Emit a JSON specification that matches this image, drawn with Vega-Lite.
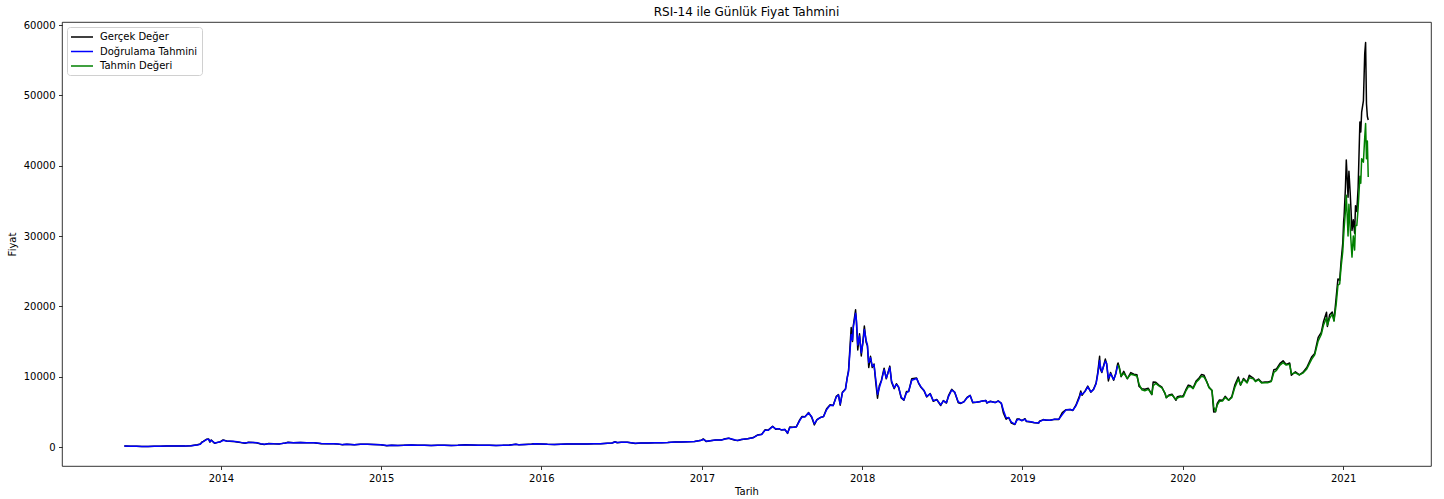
{
  "$schema": "https://vega.github.io/schema/vega-lite/v6.json",
  "width": 1369,
  "height": 444,
  "autosize": {"type": "none"},
  "padding": {"left": 62, "top": 22, "right": 13, "bottom": 33},
  "background": "white",
  "title": {
    "text": "RSI-14 ile Günlük Fiyat Tahmini",
    "font": "DejaVu Sans",
    "fontSize": 12,
    "fontWeight": "normal",
    "color": "#000",
    "anchor": "middle",
    "offset": 1
  },
  "config": {
    "view": {"stroke": "#000", "strokeWidth": 0.8},
    "axis": {
      "domain": false,
      "grid": false,
      "ticks": true,
      "tickColor": "#000",
      "tickWidth": 0.8,
      "tickSize": 3.5,
      "labelFont": "DejaVu Sans",
      "labelFontSize": 10,
      "labelColor": "#000",
      "labelPadding": 3.5,
      "titleFont": "DejaVu Sans",
      "titleFontSize": 10,
      "titleFontWeight": "normal",
      "titleColor": "#000"
    },
    "line": {"strokeWidth": 1.5, "strokeJoin": "round", "strokeCap": "butt"}
  },
  "data": {
    "values": [
      {"d": "2013-05-26", "g": 133, "v": 131},
      {"d": "2013-06-09", "g": 107, "v": 109},
      {"d": "2013-06-23", "g": 102, "v": 104},
      {"d": "2013-07-05", "g": 70, "v": 75},
      {"d": "2013-07-19", "g": 90, "v": 88},
      {"d": "2013-08-02", "g": 105, "v": 102},
      {"d": "2013-08-16", "g": 99, "v": 100},
      {"d": "2013-08-30", "g": 135, "v": 130},
      {"d": "2013-09-13", "g": 126, "v": 128},
      {"d": "2013-09-27", "g": 133, "v": 132},
      {"d": "2013-10-11", "g": 126, "v": 127},
      {"d": "2013-10-25", "g": 190, "v": 180},
      {"d": "2013-11-08", "g": 335, "v": 300},
      {"d": "2013-11-15", "g": 420, "v": 400},
      {"d": "2013-11-19", "g": 720, "v": 650},
      {"d": "2013-11-22", "g": 800, "v": 760},
      {"d": "2013-11-29", "g": 1100, "v": 1050},
      {"d": "2013-12-04", "g": 1150, "v": 1120},
      {"d": "2013-12-07", "g": 700, "v": 760},
      {"d": "2013-12-10", "g": 1000, "v": 960},
      {"d": "2013-12-18", "g": 520, "v": 560},
      {"d": "2013-12-24", "g": 660, "v": 640},
      {"d": "2013-12-31", "g": 754, "v": 740},
      {"d": "2014-01-06", "g": 1014, "v": 950},
      {"d": "2014-01-14", "g": 850, "v": 870},
      {"d": "2014-01-28", "g": 800, "v": 810},
      {"d": "2014-02-07", "g": 700, "v": 750},
      {"d": "2014-02-15", "g": 650, "v": 660},
      {"d": "2014-02-25", "g": 540, "v": 580},
      {"d": "2014-03-05", "g": 670, "v": 650},
      {"d": "2014-03-15", "g": 640, "v": 640},
      {"d": "2014-03-25", "g": 580, "v": 590},
      {"d": "2014-04-02", "g": 440, "v": 470},
      {"d": "2014-04-10", "g": 360, "v": 400},
      {"d": "2014-04-20", "g": 500, "v": 480},
      {"d": "2014-05-01", "g": 450, "v": 455},
      {"d": "2014-05-15", "g": 445, "v": 445},
      {"d": "2014-05-28", "g": 575, "v": 560},
      {"d": "2014-06-03", "g": 665, "v": 650},
      {"d": "2014-06-15", "g": 600, "v": 610},
      {"d": "2014-07-01", "g": 640, "v": 635},
      {"d": "2014-07-15", "g": 620, "v": 620},
      {"d": "2014-08-01", "g": 590, "v": 590},
      {"d": "2014-08-18", "g": 480, "v": 500},
      {"d": "2014-09-01", "g": 480, "v": 480},
      {"d": "2014-09-15", "g": 470, "v": 475},
      {"d": "2014-09-25", "g": 410, "v": 420},
      {"d": "2014-10-05", "g": 320, "v": 340},
      {"d": "2014-10-15", "g": 395, "v": 390},
      {"d": "2014-11-01", "g": 325, "v": 335},
      {"d": "2014-11-15", "g": 395, "v": 390},
      {"d": "2014-12-01", "g": 380, "v": 380},
      {"d": "2014-12-15", "g": 345, "v": 350},
      {"d": "2014-12-31", "g": 320, "v": 320},
      {"d": "2015-01-14", "g": 178, "v": 210},
      {"d": "2015-01-25", "g": 250, "v": 240},
      {"d": "2015-02-08", "g": 223, "v": 225},
      {"d": "2015-02-22", "g": 245, "v": 240},
      {"d": "2015-03-11", "g": 295, "v": 285},
      {"d": "2015-03-25", "g": 246, "v": 250},
      {"d": "2015-04-10", "g": 236, "v": 240},
      {"d": "2015-04-25", "g": 226, "v": 228},
      {"d": "2015-05-10", "g": 240, "v": 238},
      {"d": "2015-05-25", "g": 237, "v": 237},
      {"d": "2015-06-10", "g": 229, "v": 230},
      {"d": "2015-06-25", "g": 243, "v": 242},
      {"d": "2015-07-12", "g": 310, "v": 300},
      {"d": "2015-07-25", "g": 290, "v": 292},
      {"d": "2015-08-10", "g": 264, "v": 266},
      {"d": "2015-08-20", "g": 235, "v": 240},
      {"d": "2015-09-05", "g": 235, "v": 236},
      {"d": "2015-09-20", "g": 231, "v": 232},
      {"d": "2015-10-05", "g": 240, "v": 240},
      {"d": "2015-10-20", "g": 270, "v": 265},
      {"d": "2015-11-04", "g": 403, "v": 380},
      {"d": "2015-11-11", "g": 305, "v": 320},
      {"d": "2015-11-25", "g": 366, "v": 360},
      {"d": "2015-12-10", "g": 415, "v": 410},
      {"d": "2015-12-17", "g": 455, "v": 450},
      {"d": "2015-12-31", "g": 430, "v": 432},
      {"d": "2016-01-15", "g": 375, "v": 385},
      {"d": "2016-01-31", "g": 368, "v": 370},
      {"d": "2016-02-15", "g": 400, "v": 398},
      {"d": "2016-02-29", "g": 437, "v": 432},
      {"d": "2016-03-15", "g": 416, "v": 416},
      {"d": "2016-03-31", "g": 416, "v": 416},
      {"d": "2016-04-15", "g": 430, "v": 428},
      {"d": "2016-04-30", "g": 448, "v": 446},
      {"d": "2016-05-15", "g": 457, "v": 455},
      {"d": "2016-05-31", "g": 531, "v": 520},
      {"d": "2016-06-10", "g": 575, "v": 570},
      {"d": "2016-06-17", "g": 750, "v": 720},
      {"d": "2016-06-22", "g": 600, "v": 630},
      {"d": "2016-07-01", "g": 676, "v": 670},
      {"d": "2016-07-15", "g": 665, "v": 665},
      {"d": "2016-08-02", "g": 515, "v": 540},
      {"d": "2016-08-15", "g": 570, "v": 565},
      {"d": "2016-09-01", "g": 575, "v": 575},
      {"d": "2016-09-15", "g": 609, "v": 606},
      {"d": "2016-10-01", "g": 615, "v": 615},
      {"d": "2016-10-15", "g": 639, "v": 638},
      {"d": "2016-11-01", "g": 730, "v": 725},
      {"d": "2016-11-15", "g": 710, "v": 712},
      {"d": "2016-12-01", "g": 755, "v": 750},
      {"d": "2016-12-15", "g": 780, "v": 778},
      {"d": "2016-12-31", "g": 965, "v": 950},
      {"d": "2017-01-04", "g": 1150, "v": 1100},
      {"d": "2017-01-11", "g": 775, "v": 820},
      {"d": "2017-01-20", "g": 895, "v": 890},
      {"d": "2017-02-01", "g": 990, "v": 985},
      {"d": "2017-02-15", "g": 1010, "v": 1005},
      {"d": "2017-02-23", "g": 1170, "v": 1150},
      {"d": "2017-03-03", "g": 1260, "v": 1250},
      {"d": "2017-03-10", "g": 1100, "v": 1130},
      {"d": "2017-03-18", "g": 970, "v": 990},
      {"d": "2017-03-24", "g": 935, "v": 940},
      {"d": "2017-04-01", "g": 1080, "v": 1075},
      {"d": "2017-04-15", "g": 1180, "v": 1175},
      {"d": "2017-04-28", "g": 1340, "v": 1330},
      {"d": "2017-05-08", "g": 1720, "v": 1690},
      {"d": "2017-05-17", "g": 1800, "v": 1780},
      {"d": "2017-05-25", "g": 2450, "v": 2400},
      {"d": "2017-06-01", "g": 2400, "v": 2380},
      {"d": "2017-06-11", "g": 2960, "v": 2900},
      {"d": "2017-06-18", "g": 2520, "v": 2580},
      {"d": "2017-06-25", "g": 2590, "v": 2580},
      {"d": "2017-07-01", "g": 2430, "v": 2440},
      {"d": "2017-07-09", "g": 2500, "v": 2490},
      {"d": "2017-07-15", "g": 1930, "v": 2000},
      {"d": "2017-07-20", "g": 2860, "v": 2750},
      {"d": "2017-07-28", "g": 2810, "v": 2800},
      {"d": "2017-08-04", "g": 2870, "v": 2860},
      {"d": "2017-08-12", "g": 3900, "v": 3800},
      {"d": "2017-08-17", "g": 4330, "v": 4250},
      {"d": "2017-08-24", "g": 4320, "v": 4300},
      {"d": "2017-09-01", "g": 4900, "v": 4850},
      {"d": "2017-09-08", "g": 4230, "v": 4300},
      {"d": "2017-09-14", "g": 3150, "v": 3300},
      {"d": "2017-09-20", "g": 3900, "v": 3850},
      {"d": "2017-09-28", "g": 4200, "v": 4190},
      {"d": "2017-10-05", "g": 4330, "v": 4320},
      {"d": "2017-10-12", "g": 5430, "v": 5300},
      {"d": "2017-10-20", "g": 6000, "v": 5950},
      {"d": "2017-10-27", "g": 5900, "v": 5900},
      {"d": "2017-11-03", "g": 7200, "v": 7100},
      {"d": "2017-11-08", "g": 7450, "v": 7400},
      {"d": "2017-11-12", "g": 5950, "v": 6100},
      {"d": "2017-11-17", "g": 7800, "v": 7700},
      {"d": "2017-11-24", "g": 8250, "v": 8200},
      {"d": "2017-11-28", "g": 9900, "v": 9800},
      {"d": "2017-12-01", "g": 10900, "v": 10700},
      {"d": "2017-12-07", "g": 17000, "v": 16000},
      {"d": "2017-12-10", "g": 15000, "v": 15200},
      {"d": "2017-12-12", "g": 17300, "v": 17100},
      {"d": "2017-12-17", "g": 19500, "v": 19000},
      {"d": "2017-12-19", "g": 17700, "v": 18000},
      {"d": "2017-12-22", "g": 13800, "v": 14500},
      {"d": "2017-12-26", "g": 16100, "v": 15800},
      {"d": "2017-12-30", "g": 12950, "v": 13400},
      {"d": "2018-01-03", "g": 15200, "v": 14900},
      {"d": "2018-01-06", "g": 17200, "v": 16700},
      {"d": "2018-01-10", "g": 14900, "v": 15200},
      {"d": "2018-01-13", "g": 14400, "v": 14500},
      {"d": "2018-01-16", "g": 11300, "v": 12000},
      {"d": "2018-01-20", "g": 12900, "v": 12700},
      {"d": "2018-01-24", "g": 11300, "v": 11500},
      {"d": "2018-01-28", "g": 11800, "v": 11700},
      {"d": "2018-02-01", "g": 9200, "v": 9600},
      {"d": "2018-02-05", "g": 6950, "v": 7500},
      {"d": "2018-02-09", "g": 8700, "v": 8400},
      {"d": "2018-02-14", "g": 9500, "v": 9400},
      {"d": "2018-02-20", "g": 11200, "v": 11000},
      {"d": "2018-02-25", "g": 9700, "v": 9800},
      {"d": "2018-03-05", "g": 11500, "v": 11300},
      {"d": "2018-03-09", "g": 9200, "v": 9400},
      {"d": "2018-03-15", "g": 8300, "v": 8400},
      {"d": "2018-03-20", "g": 9000, "v": 8900},
      {"d": "2018-03-25", "g": 8500, "v": 8550},
      {"d": "2018-03-31", "g": 6970, "v": 7100},
      {"d": "2018-04-06", "g": 6640, "v": 6700},
      {"d": "2018-04-12", "g": 7900, "v": 7700},
      {"d": "2018-04-17", "g": 7900, "v": 7950},
      {"d": "2018-04-24", "g": 9700, "v": 9500},
      {"d": "2018-05-05", "g": 9800, "v": 9750},
      {"d": "2018-05-10", "g": 9000, "v": 9100},
      {"d": "2018-05-15", "g": 8500, "v": 8550},
      {"d": "2018-05-22", "g": 8000, "v": 8050},
      {"d": "2018-05-28", "g": 7100, "v": 7200},
      {"d": "2018-06-05", "g": 7600, "v": 7550},
      {"d": "2018-06-12", "g": 6500, "v": 6600},
      {"d": "2018-06-20", "g": 6750, "v": 6700},
      {"d": "2018-06-29", "g": 5900, "v": 6000},
      {"d": "2018-07-05", "g": 6600, "v": 6550},
      {"d": "2018-07-12", "g": 6250, "v": 6300},
      {"d": "2018-07-17", "g": 7350, "v": 7200},
      {"d": "2018-07-24", "g": 8200, "v": 8100},
      {"d": "2018-07-31", "g": 7750, "v": 7800},
      {"d": "2018-08-08", "g": 6300, "v": 6400},
      {"d": "2018-08-14", "g": 6200, "v": 6250},
      {"d": "2018-08-21", "g": 6450, "v": 6420},
      {"d": "2018-08-28", "g": 7050, "v": 7000},
      {"d": "2018-09-04", "g": 7350, "v": 7320},
      {"d": "2018-09-10", "g": 6300, "v": 6350},
      {"d": "2018-09-18", "g": 6350, "v": 6350},
      {"d": "2018-09-25", "g": 6450, "v": 6450},
      {"d": "2018-10-02", "g": 6550, "v": 6550},
      {"d": "2018-10-10", "g": 6600, "v": 6600},
      {"d": "2018-10-12", "g": 6250, "v": 6300},
      {"d": "2018-10-20", "g": 6500, "v": 6480},
      {"d": "2018-10-31", "g": 6320, "v": 6330},
      {"d": "2018-11-07", "g": 6550, "v": 6530},
      {"d": "2018-11-14", "g": 6200, "v": 6250},
      {"d": "2018-11-19", "g": 4800, "v": 5200},
      {"d": "2018-11-25", "g": 3950, "v": 4150},
      {"d": "2018-12-01", "g": 4200, "v": 4150},
      {"d": "2018-12-07", "g": 3400, "v": 3550},
      {"d": "2018-12-15", "g": 3200, "v": 3250},
      {"d": "2018-12-20", "g": 4000, "v": 3850},
      {"d": "2018-12-24", "g": 4000, "v": 3950},
      {"d": "2018-12-31", "g": 3740, "v": 3750},
      {"d": "2019-01-07", "g": 4030, "v": 3950},
      {"d": "2019-01-10", "g": 3630, "v": 3700},
      {"d": "2019-01-20", "g": 3540, "v": 3580},
      {"d": "2019-01-28", "g": 3460, "v": 3480},
      {"d": "2019-02-07", "g": 3400, "v": 3410},
      {"d": "2019-02-09", "g": 3660, "v": 3600},
      {"d": "2019-02-18", "g": 3900, "v": 3860},
      {"d": "2019-02-24", "g": 3800, "v": 3850},
      {"d": "2019-03-05", "g": 3800, "v": 3790},
      {"d": "2019-03-15", "g": 3950, "v": 3930},
      {"d": "2019-03-25", "g": 3920, "v": 3930},
      {"d": "2019-04-02", "g": 4880, "v": 4600},
      {"d": "2019-04-10", "g": 5300, "v": 5250},
      {"d": "2019-04-20", "g": 5330, "v": 5320},
      {"d": "2019-04-26", "g": 5200, "v": 5230},
      {"d": "2019-05-03", "g": 5950, "v": 5850},
      {"d": "2019-05-11", "g": 7250, "v": 7000},
      {"d": "2019-05-14", "g": 7950, "v": 7700},
      {"d": "2019-05-17", "g": 7350, "v": 7500},
      {"d": "2019-05-24", "g": 7990, "v": 7900},
      {"d": "2019-05-30", "g": 8660, "v": 8550},
      {"d": "2019-06-06", "g": 7800, "v": 7850},
      {"d": "2019-06-12", "g": 8200, "v": 8150},
      {"d": "2019-06-18", "g": 9100, "v": 9000},
      {"d": "2019-06-22", "g": 10700, "v": 10400},
      {"d": "2019-06-26", "g": 12900, "v": 12300},
      {"d": "2019-06-27", "g": 11200, "v": 11700},
      {"d": "2019-07-01", "g": 10600, "v": 10700},
      {"d": "2019-07-09", "g": 12500, "v": 12200},
      {"d": "2019-07-12", "g": 11800, "v": 11900},
      {"d": "2019-07-16", "g": 9400, "v": 9800},
      {"d": "2019-07-21", "g": 10600, "v": 10400},
      {"d": "2019-07-28", "g": 9500, "v": 9600},
      {"d": "2019-08-02", "g": 10530, "v": 10400},
      {"d": "2019-08-06", "g": 11800, "v": 11600},
      {"d": "2019-08-07", "g": 11950, "t": 11700},
      {"d": "2019-08-10", "g": 11300, "t": 11200},
      {"d": "2019-08-14", "g": 10000, "t": 10100},
      {"d": "2019-08-20", "g": 10760, "t": 10500},
      {"d": "2019-08-28", "g": 9700, "t": 9750},
      {"d": "2019-09-05", "g": 10580, "t": 10350},
      {"d": "2019-09-12", "g": 10350, "t": 10250},
      {"d": "2019-09-19", "g": 10280, "t": 10100},
      {"d": "2019-09-24", "g": 8600, "t": 8900},
      {"d": "2019-09-30", "g": 8300, "t": 8150},
      {"d": "2019-10-07", "g": 8200, "t": 8000},
      {"d": "2019-10-15", "g": 8350, "t": 8200},
      {"d": "2019-10-23", "g": 7450, "t": 7500},
      {"d": "2019-10-26", "g": 9250, "t": 8700},
      {"d": "2019-11-01", "g": 9200, "t": 9050},
      {"d": "2019-11-08", "g": 8800, "t": 8700},
      {"d": "2019-11-15", "g": 8500, "t": 8400},
      {"d": "2019-11-22", "g": 7600, "t": 7650},
      {"d": "2019-11-25", "g": 7000, "t": 7050},
      {"d": "2019-12-01", "g": 7400, "t": 7300},
      {"d": "2019-12-08", "g": 7500, "t": 7400},
      {"d": "2019-12-17", "g": 6640, "t": 6750},
      {"d": "2019-12-20", "g": 7150, "t": 6950},
      {"d": "2019-12-27", "g": 7250, "t": 7150},
      {"d": "2019-12-31", "g": 7200, "t": 7100},
      {"d": "2020-01-03", "g": 7350, "t": 7150},
      {"d": "2020-01-08", "g": 8080, "t": 7900},
      {"d": "2020-01-14", "g": 8800, "t": 8550},
      {"d": "2020-01-19", "g": 8700, "t": 8600},
      {"d": "2020-01-25", "g": 8400, "t": 8300},
      {"d": "2020-02-01", "g": 9400, "t": 9200},
      {"d": "2020-02-08", "g": 9850, "t": 9650},
      {"d": "2020-02-13", "g": 10300, "t": 10050},
      {"d": "2020-02-19", "g": 10200, "t": 9950},
      {"d": "2020-02-25", "g": 9300, "t": 9300},
      {"d": "2020-03-01", "g": 8550, "t": 8450},
      {"d": "2020-03-08", "g": 8040, "t": 8050},
      {"d": "2020-03-12", "g": 4970, "t": 5700},
      {"d": "2020-03-16", "g": 5000, "t": 5050},
      {"d": "2020-03-20", "g": 6200, "t": 5950},
      {"d": "2020-03-25", "g": 6700, "t": 6500},
      {"d": "2020-04-01", "g": 6640, "t": 6550},
      {"d": "2020-04-07", "g": 7200, "t": 7050},
      {"d": "2020-04-15", "g": 6640, "t": 6650},
      {"d": "2020-04-22", "g": 7130, "t": 7000},
      {"d": "2020-04-29", "g": 8800, "t": 8450},
      {"d": "2020-05-07", "g": 9950, "t": 9650},
      {"d": "2020-05-12", "g": 8800, "t": 8850},
      {"d": "2020-05-19", "g": 9750, "t": 9600},
      {"d": "2020-05-27", "g": 9200, "t": 9100},
      {"d": "2020-06-01", "g": 10200, "t": 9850},
      {"d": "2020-06-10", "g": 9800, "t": 9700},
      {"d": "2020-06-15", "g": 9400, "t": 9300},
      {"d": "2020-06-22", "g": 9650, "t": 9550},
      {"d": "2020-06-29", "g": 9190, "t": 9100},
      {"d": "2020-07-07", "g": 9250, "t": 9150},
      {"d": "2020-07-14", "g": 9250, "t": 9150},
      {"d": "2020-07-21", "g": 9390, "t": 9300},
      {"d": "2020-07-27", "g": 11000, "t": 10600},
      {"d": "2020-08-02", "g": 11100, "t": 10900},
      {"d": "2020-08-10", "g": 11900, "t": 11650},
      {"d": "2020-08-17", "g": 12250, "t": 12000},
      {"d": "2020-08-24", "g": 11750, "t": 11650},
      {"d": "2020-09-01", "g": 11950, "t": 11750},
      {"d": "2020-09-05", "g": 10200, "t": 10400},
      {"d": "2020-09-14", "g": 10700, "t": 10550},
      {"d": "2020-09-23", "g": 10250, "t": 10250},
      {"d": "2020-10-01", "g": 10600, "t": 10500},
      {"d": "2020-10-10", "g": 11300, "t": 11100},
      {"d": "2020-10-21", "g": 12800, "t": 12450},
      {"d": "2020-10-28", "g": 13300, "t": 13100},
      {"d": "2020-11-05", "g": 15600, "t": 15100},
      {"d": "2020-11-12", "g": 16300, "t": 16000},
      {"d": "2020-11-17", "g": 17800, "t": 17300},
      {"d": "2020-11-24", "g": 19150, "t": 18400},
      {"d": "2020-11-26", "g": 17150, "t": 17300},
      {"d": "2020-12-01", "g": 18800, "t": 18300},
      {"d": "2020-12-07", "g": 19200, "t": 18900},
      {"d": "2020-12-11", "g": 18000, "t": 17900},
      {"d": "2020-12-16", "g": 21300, "t": 20300},
      {"d": "2020-12-20", "g": 23900, "t": 23000},
      {"d": "2020-12-24", "g": 23700, "t": 23200},
      {"d": "2020-12-27", "g": 26300, "t": 25500},
      {"d": "2020-12-31", "g": 29000, "t": 27800},
      {"d": "2021-01-02", "g": 32100, "t": 30000},
      {"d": "2021-01-03", "g": 32800, "t": 31000},
      {"d": "2021-01-06", "g": 36800, "t": 33500},
      {"d": "2021-01-08", "g": 40800, "t": 35800},
      {"d": "2021-01-10", "g": 38300, "t": 33000},
      {"d": "2021-01-12", "g": 35500, "t": 30000},
      {"d": "2021-01-14", "g": 39200, "t": 34500},
      {"d": "2021-01-17", "g": 36000, "t": 31000},
      {"d": "2021-01-21", "g": 30800, "t": 27000},
      {"d": "2021-01-24", "g": 32300, "t": 30000},
      {"d": "2021-01-27", "g": 30400, "t": 28000},
      {"d": "2021-01-29", "g": 34300, "t": 31500},
      {"d": "2021-02-01", "g": 33500, "t": 31500},
      {"d": "2021-02-04", "g": 36900, "t": 34000},
      {"d": "2021-02-08", "g": 46200, "t": 38500},
      {"d": "2021-02-10", "g": 44800, "t": 37500},
      {"d": "2021-02-12", "g": 47600, "t": 41000},
      {"d": "2021-02-16", "g": 49200, "t": 40500},
      {"d": "2021-02-19", "g": 55900, "t": 44000},
      {"d": "2021-02-21", "g": 57500, "t": 46000},
      {"d": "2021-02-23", "g": 48800, "t": 41000},
      {"d": "2021-02-25", "g": 47000, "t": 43500},
      {"d": "2021-02-27", "g": 46500, "t": 38400}
    ]
  },
  "encoding": {
    "x": {
      "field": "d",
      "type": "temporal",
      "title": "Tarih",
      "scale": {"type": "utc", "domain": ["2013-01-04", "2021-07-20"], "nice": false},
      "axis": {
        "values": [
          {"year": 2014, "month": 1, "date": 1, "utc": true},
          {"year": 2015, "month": 1, "date": 1, "utc": true},
          {"year": 2016, "month": 1, "date": 1, "utc": true},
          {"year": 2017, "month": 1, "date": 1, "utc": true},
          {"year": 2018, "month": 1, "date": 1, "utc": true},
          {"year": 2019, "month": 1, "date": 1, "utc": true},
          {"year": 2020, "month": 1, "date": 1, "utc": true},
          {"year": 2021, "month": 1, "date": 1, "utc": true}
        ],
        "format": "%Y",
        "labelAngle": 0,
        "titlePadding": 3
      }
    }
  },
  "layer": [
    {
      "mark": {"type": "line", "clip": true},
      "encoding": {
        "y": {
          "field": "g",
          "type": "quantitative",
          "title": "Fiyat",
          "scale": {"domain": [-2700, 60430], "nice": false, "zero": false},
          "axis": {"values": [0, 10000, 20000, 30000, 40000, 50000, 60000], "format": "d", "titlePadding": 6}
        },
        "color": {
          "datum": "Gerçek Değer",
          "type": "nominal",
          "scale": {
            "domain": ["Gerçek Değer", "Doğrulama Tahmini", "Tahmin Değeri"],
            "range": ["#000000", "#0000ff", "#008000"]
          },
          "legend": {
            "title": null,
            "orient": "none",
            "legendX": 5,
            "legendY": 5,
            "symbolType": "M-2.2,0H2.2",
            "symbolSize": 100,
            "symbolStrokeWidth": 1.5,
            "symbolOffset": 5,
            "labelFont": "DejaVu Sans",
            "labelFontSize": 10,
            "labelColor": "#000",
            "labelOffset": 12,
            "rowPadding": 3.5,
            "padding": 4,
            "strokeColor": "#d0d0d0",
            "fillColor": "rgba(255,255,255,0.8)",
            "cornerRadius": 3
          }
        }
      }
    },
    {
      "transform": [{"filter": "isValid(datum.v)"}],
      "mark": {"type": "line", "clip": true},
      "encoding": {
        "y": {"field": "v", "type": "quantitative"},
        "color": {"datum": "Doğrulama Tahmini", "type": "nominal"}
      }
    },
    {
      "transform": [{"filter": "isValid(datum.t)"}],
      "mark": {"type": "line", "clip": true},
      "encoding": {
        "y": {"field": "t", "type": "quantitative"},
        "color": {"datum": "Tahmin Değeri", "type": "nominal"}
      }
    }
  ]
}
